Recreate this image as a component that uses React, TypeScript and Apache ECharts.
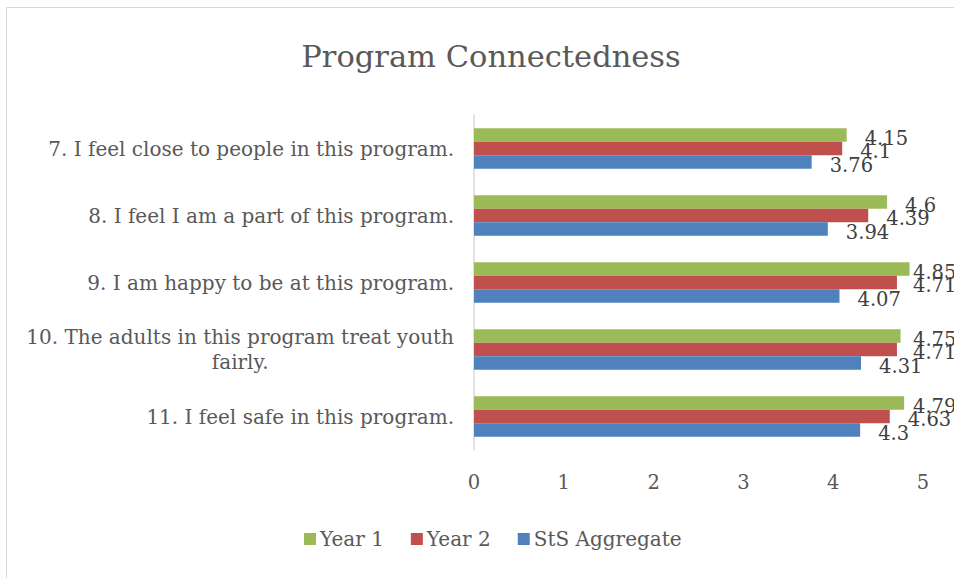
import React, { useEffect, useRef } from "react";
import * as echarts from "echarts";

const categories = [
  "7. I feel close to people in this program.",
  "8. I feel I am a part of this program.",
  "9. I am happy to be at this program.",
  "10. The adults in this program treat youth\nfairly.",
  "11. I feel safe in this program.",
];
const year1 = [4.15, 4.6, 4.85, 4.75, 4.79];
const year2 = [4.1, 4.39, 4.71, 4.71, 4.63];
const stsAggregate = [3.76, 3.94, 4.07, 4.31, 4.3];
const seriesNames = ["Year 1", "Year 2", "StS Aggregate"];
const colors = ["#9BBB59", "#C0504D", "#4F81BD"];

const FONT = "DejaVu Serif";
const LABEL_MAX_X = 913;

export default function App() {
  const ref = useRef<HTMLDivElement>(null);
  useEffect(() => {
    if (!ref.current) return;
    const chart = echarts.init(ref.current, undefined, { renderer: "svg" });
    const data = [year1, year2, stsAggregate];
    chart.setOption({
      animation: false,
      backgroundColor: "#ffffff",
      title: {
        text: "Program Connectedness",
        left: 486,
        top: 36,
        textAlign: "center",
        textStyle: { fontFamily: FONT, fontSize: 30.5, fontWeight: "normal", color: "#595959" },
      },
      graphic: [
        {
          type: "rect",
          shape: { x: 6.5, y: 7.5, width: 2000, height: 2000 },
          style: { fill: "none", stroke: "#d9d9d9", lineWidth: 1 },
          silent: true,
        },
      ],
      legend: {
        data: seriesNames,
        left: 299,
        top: 524,
        icon: "rect",
        itemWidth: 12,
        itemHeight: 12,
        itemGap: 27,
        textStyle: { fontFamily: FONT, fontSize: 20, color: "#595959", padding: [0, 0, 0, -1] },
      },
      grid: { left: 474, top: 115, right: 31, bottom: 128, containLabel: false },
      xAxis: {
        type: "value",
        min: 0,
        max: 5,
        interval: 1,
        axisLine: { show: false },
        axisTick: { show: false },
        splitLine: { show: false },
        axisLabel: { fontFamily: FONT, fontSize: 19.5, color: "#595959", margin: 22 },
      },
      yAxis: {
        type: "category",
        inverse: true,
        data: categories,
        axisLine: { show: true, lineStyle: { color: "#d9d9d9", width: 1.5 } },
        axisTick: { show: false },
        axisLabel: {
          margin: 20,
          formatter: (v: string) => {
            const parts = v.split("\n");
            if (parts.length === 1) return `{a|${v}}`;
            return `{a|${parts[0]}}\n{c|${parts[1]}}`;
          },
          rich: {
            a: { fontFamily: FONT, fontSize: 20, color: "#595959", lineHeight: 25 },
            c: { fontFamily: FONT, fontSize: 20, color: "#595959", lineHeight: 25, align: "center" },
          },
        },
      },
      series: seriesNames.map((name, i) => ({
        name,
        type: "bar",
        data: data[i],
        barWidth: 13.5,
        barGap: "0%",
        itemStyle: { color: colors[i] },
        label: {
          show: true,
          position: "right",
          distance: 18,
          offset: [0, 3],
          fontFamily: FONT,
          fontSize: 19.5,
          color: "#404040",
        },
        labelLayout: (p: any) => ({
          x: Math.min(p.labelRect.x, LABEL_MAX_X),
          y: p.labelRect.y + p.labelRect.height / 2,
          align: "left",
          verticalAlign: "middle",
        }),
      })),
    });
    return () => chart.dispose();
  }, []);
  return (
    <div
      ref={ref}
      style={{ position: "absolute", left: 0, top: 0, width: 954, height: 578 }}
    />
  );
}
